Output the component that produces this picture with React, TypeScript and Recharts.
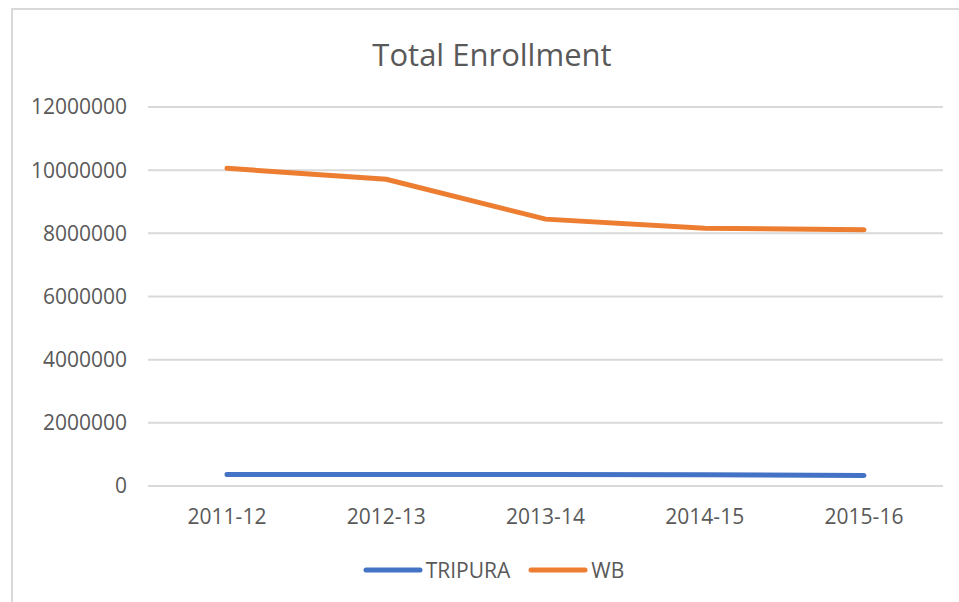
import { LineChart, Line, XAxis, YAxis, CartesianGrid, Legend } from 'recharts';

const years = ['2011-12', '2012-13', '2013-14', '2014-15', '2015-16'];
const tripura = [362000, 364000, 366000, 356000, 332000];
const wb = [10060000, 9710000, 8450000, 8160000, 8110000];
const yTicks = [0, 2000000, 4000000, 6000000, 8000000, 10000000, 12000000];

const TEXT = '#595959';
const GRID = '#d9d9d9';
const FONT = '"Open Sans", "Noto Sans", sans-serif';

const data = years.map((year, i) => ({ year, TRIPURA: tripura[i], WB: wb[i] }));

function LegendContent({ payload }: { payload?: { value: string; color: string }[] }) {
  return (
    <div
      style={{
        display: 'flex',
        justifyContent: 'center',
        gap: 18,
        paddingLeft: 44,
        fontFamily: FONT,
        fontSize: 21,
        color: TEXT,
      }}
    >
      {(payload ?? []).map((p) => (
        <div key={p.value} style={{ display: 'flex', alignItems: 'center', gap: 3 }}>
          <svg width={60} height={10}>
            <line x1={3} y1={5} x2={57} y2={5} stroke={p.color} strokeWidth={5} strokeLinecap="round" />
          </svg>
          <span>{p.value}</span>
        </div>
      ))}
    </div>
  );
}

export default function App() {
  return (
    <div style={{ position: 'absolute', left: 0, top: 0, width: 959, height: 602, overflow: 'hidden', background: '#fff' }}>
      <div
        style={{
          position: 'absolute',
          left: 11,
          top: 8,
          width: 960,
          height: 610,
          borderLeft: `2px solid ${GRID}`,
          borderTop: `2px solid ${GRID}`,
        }}
      />
      <div
        style={{
          position: 'absolute',
          left: 292,
          top: 32,
          width: 400,
          textAlign: 'center',
          fontFamily: FONT,
          fontSize: 31,
          color: TEXT,
          lineHeight: '44px',
        }}
      >
        Total Enrollment
      </div>
      <div style={{ position: 'absolute', left: 0, top: 0 }}>
        <LineChart width={959} height={602} data={data} margin={{ top: 107, right: 16, left: 0, bottom: 2 }}>
          <CartesianGrid horizontal vertical={false} stroke={GRID} strokeWidth={2} />
          <XAxis
            dataKey="year"
            tickLine={false}
            axisLine={{ stroke: GRID, strokeWidth: 2 }}
            tickSize={0}
            tickMargin={23}
            height={70}
            padding={{ left: 79, right: 79 }}
            tick={{ fill: TEXT, fontSize: 21, fontFamily: FONT }}
          />
          <YAxis
            domain={[0, 12000000]}
            ticks={yTicks}
            width={148}
            tickLine={false}
            axisLine={false}
            tickSize={0}
            tickMargin={21}
            interval={0}
            tick={{ fill: TEXT, fontSize: 21, fontFamily: FONT }}
          />
          <Legend verticalAlign="bottom" height={44} content={<LegendContent />} />
          <Line dataKey="TRIPURA" stroke="#4472C4" strokeWidth={5} strokeLinecap="round" dot={false} isAnimationActive={false} />
          <Line dataKey="WB" stroke="#ED7D31" strokeWidth={5} strokeLinecap="round" dot={false} isAnimationActive={false} />
        </LineChart>
      </div>
    </div>
  );
}
